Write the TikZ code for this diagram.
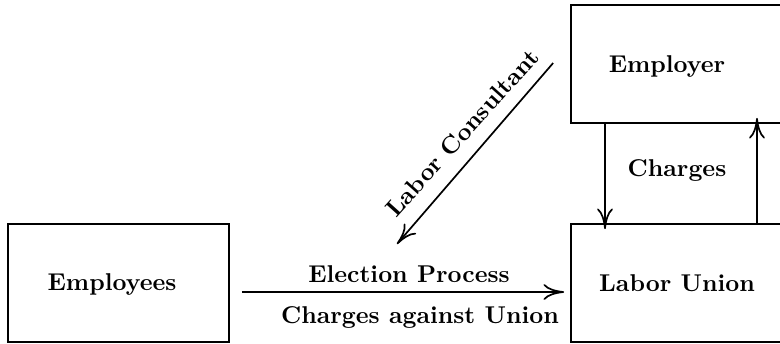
\documentclass[tikz,border=0pt]{standalone}
\usetikzlibrary{arrows.meta,positioning,fit,calc}
\begin{document}
\begin{tikzpicture}[x=0.4115pt,y=-0.4115pt,
  box/.style={draw, line width=0.7pt, inner sep=0pt},
  lbl/.style={font=\bfseries, inner sep=0pt, anchor=base},
  arr/.style={line width=0.7pt, -{Computer Modern Rightarrow[length=8.5pt,width=6.5pt]}}]
\useasboundingbox (0,0) rectangle (780,343);
% boxes
\node[box, fit={(8,224) (229,342)}] (emp) {};
\node[box, fit={(571,5) (800,123)}] (employer) {};
\node[box, fit={(571,224) (800,342)}] (union) {};
% box texts
\node[lbl] (tEmp) at (112,290) {Employees};
\node[lbl] (tEmployer) at (667,72) {Employer};
\node[lbl] (tUnion) at (677,291) {Labor Union};
% helper coordinates
\coordinate (dn) at (605,0);
\coordinate (upc) at (757,0);
\coordinate (lcend) at (397,244);
% arrows
\draw[arr] ($(emp.east)+(12,9)$) -- ($(union.west)+(-6,9)$);
\draw[arr] (employer.south -| dn) -- ($(union.north -| dn)+(0,6)$);
\draw[arr] (union.north -| upc) -- ($(employer.south -| upc)+(0,-6)$);
\draw[arr] ($(employer.west)+(-17,-1)$) -- (lcend);
% connector labels
\node[lbl] (tElection) at (409,282) {Election Process};
\node[lbl] (tCharges) at (420,323) {Charges against Union};
\node[lbl] (tCh) at (677,176) {Charges};
\node[font=\bfseries, inner sep=0pt, rotate=48] (tLC) at (462,133) {Labor Consultant};
\end{tikzpicture}
\end{document}
